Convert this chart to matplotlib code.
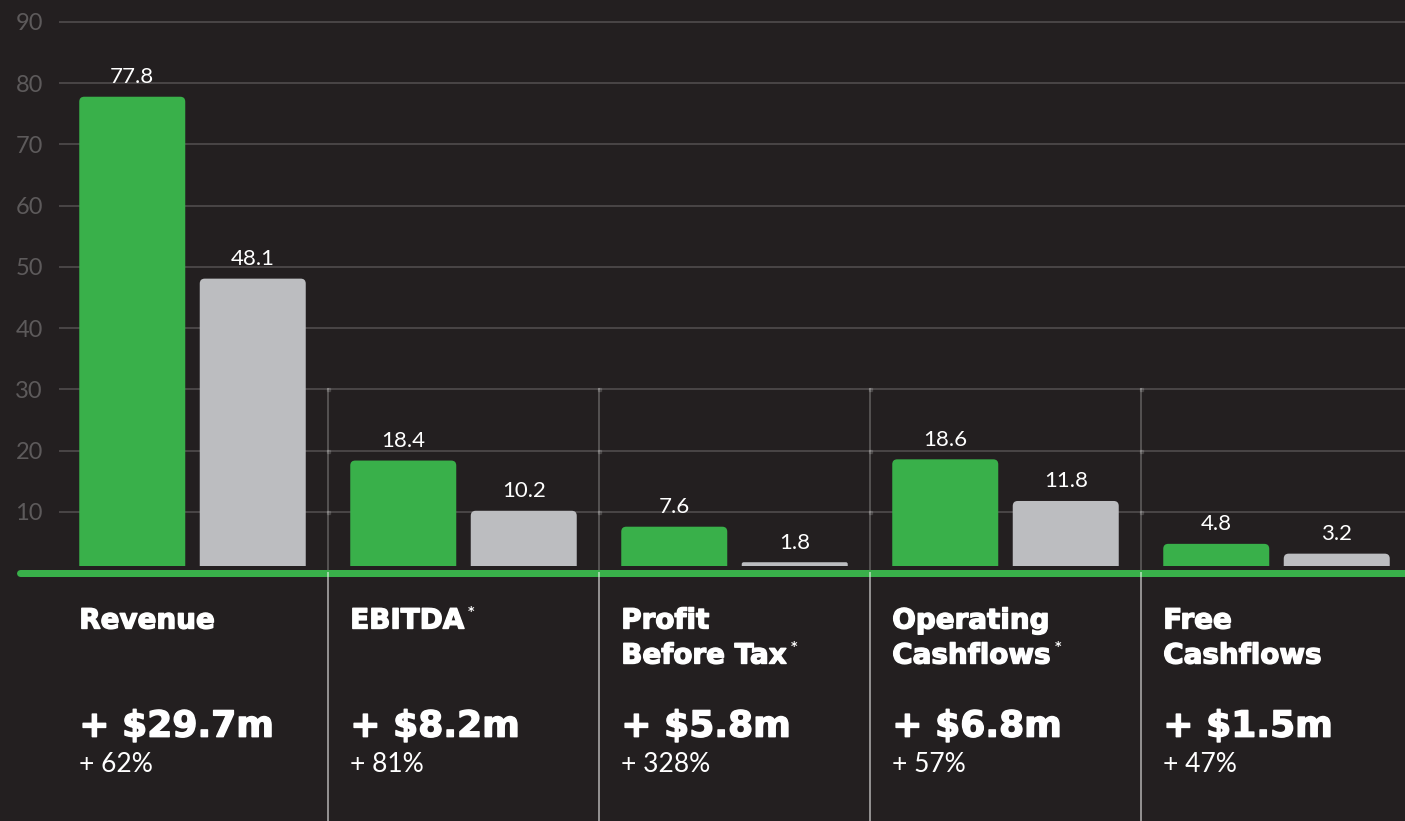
import matplotlib
matplotlib.use("Agg")
import matplotlib.pyplot as plt
import matplotlib.patheffects as pe
from matplotlib.patches import PathPatch
from matplotlib.path import Path
from matplotlib.transforms import blended_transform_factory

# ---------------- data ----------------
title_lines = [["Revenue"], ["EBITDA"], ["Profit", "Before Tax"],
               ["Operating", "Cashflows"], ["Free", "Cashflows"]]
has_asterisk = [False, True, True, True, False]
current_year = [77.8, 18.4, 7.6, 18.6, 4.8]
prior_year = [48.1, 10.2, 1.8, 11.8, 3.2]
change_abs = ["+ $29.7m", "+ $8.2m", "+ $5.8m", "+ $6.8m", "+ $1.5m"]
change_pct = ["+ 62%", "+ 81%", "+ 328%", "+ 57%", "+ 47%"]
y_ticks = [10, 20, 30, 40, 50, 60, 70, 80, 90]

# ---------------- style ----------------
BG = "#231f20"
GREEN = "#39b04a"
GREY = "#bcbdc0"
GRID = "#484445"
TICK = "#5d5a5b"
W, H = 1405, 821
DPI = 100
PT = 72 / DPI  # points per pixel

# layout (pixels)
GROUP_PX = 271.0      # distance between groups
G0_PX = 192.5         # centre of first group
AX_LEFT_PX = 59
UNIT_PX = 6.125       # pixels per value unit
ZERO_PX = 573.25      # y pixel of value 0 (from top)

fig = plt.figure(figsize=(W / DPI, H / DPI), dpi=DPI, facecolor=BG)
ax = fig.add_axes([AX_LEFT_PX / W, 0, 1 - AX_LEFT_PX / W, 1])
ax.set_facecolor(BG)
ax.set_xlim((AX_LEFT_PX - G0_PX) / GROUP_PX, (W - G0_PX) / GROUP_PX)
ax.set_ylim((ZERO_PX - H) / UNIT_PX, ZERO_PX / UNIT_PX)
for s in ax.spines.values():
    s.set_visible(False)
ax.set_xticks([])
ax.set_yticks(y_ticks)
ax.set_yticklabels([str(t) for t in y_ticks], fontfamily="Lato", fontsize=17, color=TICK)
ax.tick_params(axis="y", length=0, pad=16 * PT)

x_lo, x_hi = ax.get_xlim()
y_lo, y_hi = ax.get_ylim()

# gridlines
ax.hlines(y_ticks, x_lo, x_hi, colors=GRID, linewidth=2 * PT, zorder=1)

n = len(current_year)
xs = list(range(n))
off = 60.25 / GROUP_PX
bw = 106 / GROUP_PX
gap = 7.25 / UNIT_PX  # small gap between bar bottom and baseline


def rounded_bar(xc, val, color):
    h_px = (val - gap) * UNIT_PX
    r_px = min(5.0, h_px / 2.0)
    rx = r_px / GROUP_PX
    ry = r_px / UNIT_PX
    x0, x1 = xc - bw / 2, xc + bw / 2
    verts = [(x0, gap), (x1, gap), (x1, val - ry), (x1, val), (x1 - rx, val),
             (x0 + rx, val), (x0, val), (x0, val - ry), (x0, gap)]
    codes = [Path.MOVETO, Path.LINETO, Path.LINETO, Path.CURVE3, Path.CURVE3,
             Path.LINETO, Path.CURVE3, Path.CURVE3, Path.CLOSEPOLY]
    ax.add_patch(PathPatch(Path(verts, codes), fc=color, ec="none", zorder=3))
    ax.annotate(f"{val:.1f}", xy=(xc, val), xytext=(0, 13.5),
                textcoords="offset pixels", ha="center", va="baseline",
                fontfamily="Lato", fontsize=16, color="white", zorder=5)


for i in xs:
    rounded_bar(i - off, current_year[i], GREEN)
    rounded_bar(i + off, prior_year[i], GREY)

# green baseline
ax.plot([(20 - G0_PX) / GROUP_PX, x_hi], [0, 0], color=GREEN,
        linewidth=7 * PT, solid_capstyle="round", clip_on=False, zorder=4)

# separators
for i in range(n - 1):
    xsep = i + 0.5
    ax.plot([xsep, xsep], [30, 0], color="white", alpha=0.22,
            linewidth=2 * PT, zorder=2)
    ax.plot([xsep] * (len(y_ticks[:3])), y_ticks[:3], linestyle="none",
            marker="s", markersize=3 * PT, color="white", alpha=0.12, zorder=2)
    ax.plot([xsep, xsep], [0, y_lo], color="white", alpha=0.5,
            linewidth=2 * PT, zorder=5)

# bottom texts
trans = blended_transform_factory(ax.transData, fig.transFigure)
heavy = [pe.withStroke(linewidth=1.0, foreground="white")]


def fy(px):
    return 1 - px / H


for i in xs:
    xl = i - off - bw / 2
    last = None
    for j, line in enumerate(title_lines[i]):
        last = ax.text(xl, fy(628.5 + 35 * j), line, transform=trans,
                       ha="left", va="baseline", fontfamily="DejaVu Sans",
                       fontweight="bold", fontsize=20, color="white",
                       path_effects=heavy)
    if has_asterisk[i]:
        ax.annotate("*", xy=(1, 1), xycoords=last, xytext=(4, 2),
                    textcoords="offset pixels", ha="left", va="top",
                    fontfamily="DejaVu Sans", fontweight="bold",
                    fontsize=9, color="white")
    ax.text(xl, fy(736.7), change_abs[i], transform=trans, ha="left",
            va="baseline", fontfamily="DejaVu Sans", fontweight="bold",
            fontsize=26, color="white", path_effects=heavy)
    ax.text(xl, fy(771.7), change_pct[i], transform=trans, ha="left",
            va="baseline", fontfamily="Lato", fontsize=19, color="white")

fig.savefig("out.png", dpi=DPI, facecolor=BG)
